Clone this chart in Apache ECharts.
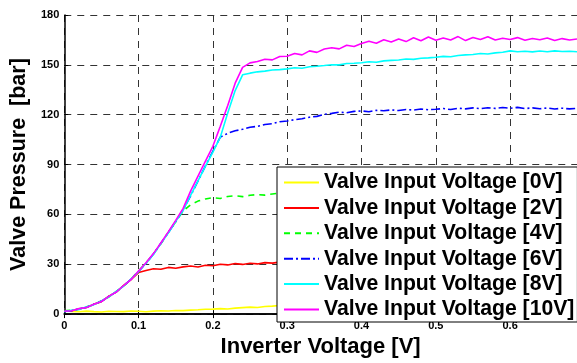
<!DOCTYPE html>
<html>
<head>
<meta charset="utf-8">
<script src="https://cdn.jsdelivr.net/npm/echarts@6/dist/echarts.min.js"></script>
<style>
  html, body { margin: 0; padding: 0; background: #fff; }
  #chart { width: 577px; height: 363px; }
</style>
</head>
<body>
<div id="chart"></div>
<script>
// Inverter voltage samples [V]
const inverterVoltage = [
  0.00, 0.01, 0.02, 0.03, 0.04, 0.05, 0.06, 0.07, 0.08, 0.09,
  0.10, 0.11, 0.12, 0.13, 0.14, 0.15, 0.16, 0.17, 0.18, 0.19,
  0.20, 0.21, 0.22, 0.23, 0.24, 0.25, 0.26, 0.27, 0.28, 0.29,
  0.30, 0.31, 0.32, 0.33, 0.34, 0.35, 0.36, 0.37, 0.38, 0.39,
  0.40, 0.41, 0.42, 0.43, 0.44, 0.45, 0.46, 0.47, 0.48, 0.49,
  0.50, 0.51, 0.52, 0.53, 0.54, 0.55, 0.56, 0.57, 0.58, 0.59,
  0.60, 0.61, 0.62, 0.63, 0.64, 0.65, 0.66, 0.67, 0.68, 0.69
];

// Valve pressure [bar] for each valve input voltage
const pressure0V = [
  2.0, 1.6, 1.4, 1.8, 1.5, 1.3, 1.7, 1.6, 1.5, 1.9,
  1.7, 1.4, 1.8, 2.0, 1.9, 2.2, 2.1, 2.4, 2.6, 2.9,
  3.0, 3.3, 3.1, 3.6, 3.9, 4.2, 4.0, 4.6, 4.8, 5.2,
  5.4, 5.7, 5.9, 6.2, 6.4, 6.7, 6.9, 7.1, 7.4, 7.6,
  7.8, 8.0, 8.2, 8.4, 8.5, 8.7, 8.9, 9.0, 9.2, 9.3,
  9.5, 9.6, 9.8, 9.9, 10.0, 10.1, 10.2, 10.4, 10.5, 10.6,
  10.7, 10.8, 10.9, 11.0, 11.1, 11.2, 11.3, 11.3, 11.4, 11.5
];
const pressure2V = [
  1.8, 2.0, 3.2, 4.0, 6.0, 7.5, 10.8, 13.2, 17.3, 20.8,
  25.0, 26.2, 27.3, 27.0, 28.1, 27.6, 28.4, 28.9, 28.3, 29.4,
  29.1, 30.0, 29.6, 30.4, 29.9, 30.6, 30.2, 31.0, 30.7, 31.3,
  31.5, 31.8, 32.0, 32.2, 32.4, 32.6, 32.8, 33.0, 33.1, 33.3,
  33.4, 33.6, 33.7, 33.8, 33.9, 34.0, 34.1, 34.2, 34.3, 34.4,
  34.5, 34.6, 34.6, 34.7, 34.8, 34.8, 34.9, 35.0, 35.0, 35.1,
  35.1, 35.2, 35.2, 35.3, 35.3, 35.4, 35.4, 35.5, 35.5, 35.6
];
const pressure4V = [
  2.0, 2.4, 2.8, 4.4, 5.6, 8.0, 10.3, 13.7, 16.8, 21.2,
  26.0, 30.8, 36.2, 42.3, 49.2, 55.6, 62.0, 65.8, 68.0, 69.3,
  70.1, 69.6, 70.8, 71.2, 70.7, 71.5, 71.9, 71.6, 72.3, 72.8,
  73.0, 73.2, 73.4, 73.6, 73.8, 74.0, 74.1, 74.3, 74.4, 74.6,
  74.7, 74.8, 74.9, 75.0, 75.1, 75.2, 75.3, 75.4, 75.5, 75.5,
  75.6, 75.7, 75.7, 75.8, 75.9, 75.9, 76.0, 76.0, 76.1, 76.1,
  76.2, 76.2, 76.3, 76.3, 76.3, 76.4, 76.4, 76.5, 76.5, 76.5
];
const pressure6V = [
  1.6, 2.1, 3.1, 4.1, 5.9, 7.7, 10.6, 13.4, 17.1, 21.0,
  25.7, 30.4, 36.1, 42.6, 49.0, 55.7, 62.6, 71.2, 80.1, 89.2,
  98.0, 106.5, 108.8, 110.3, 111.2, 112.4, 113.0, 114.1, 114.6, 115.8,
  116.2, 117.0, 117.6, 118.5, 119.0, 120.2, 120.8, 121.5, 121.2, 122.0,
  122.3, 121.8, 122.6, 122.4, 122.9, 122.5, 123.1, 122.8, 123.4, 123.0,
  123.3, 123.7, 123.1, 123.9, 123.5, 124.1, 123.6, 124.2, 123.8, 124.3,
  123.9, 124.4, 123.7, 124.1, 123.6, 124.0, 123.4, 123.9, 123.5, 123.8
];
const pressure8V = [
  1.4, 2.3, 3.0, 4.3, 5.7, 7.9, 10.4, 13.6, 16.9, 21.1,
  25.6, 30.6, 35.9, 42.4, 48.8, 55.9, 62.4, 71.5, 80.2, 89.0,
  97.5, 106.5, 121.0, 134.5, 144.0, 145.0, 145.8, 146.2, 146.9, 147.1,
  147.6, 148.3, 148.0, 148.9, 149.2, 149.6, 150.1, 150.0, 150.8, 151.0,
  151.3, 151.9, 151.6, 152.4, 152.7, 152.9, 153.5, 153.3, 154.0, 154.2,
  154.6, 155.1, 154.9, 155.6, 156.0, 156.2, 156.8, 156.5, 157.2, 157.6,
  158.4, 157.9, 158.2, 157.8, 158.3, 157.9, 158.4, 158.0, 158.2, 157.9
];
const pressure10V = [
  1.7, 2.0, 3.3, 4.0, 5.9, 7.6, 10.7, 13.3, 17.2, 20.9,
  25.9, 30.9, 36.4, 42.8, 49.5, 56.4, 63.6, 74.0, 83.0, 92.0,
  101.0, 113.0, 125.5, 139.0, 148.5, 151.2, 152.0, 153.4, 153.0, 155.0,
  155.2, 156.8, 156.0, 158.4, 157.5, 159.5, 160.3, 159.6, 161.8, 161.0,
  162.9, 164.2, 163.0, 165.1, 163.8, 165.6, 164.0, 166.3, 164.5, 166.8,
  164.8, 166.2, 165.0, 167.0, 164.6, 166.5, 165.2, 166.9, 164.9, 166.0,
  165.3, 166.4, 164.8, 165.9, 165.1, 166.2, 164.7, 165.8, 165.0, 165.6
];

const seriesNames = [
  'Valve Input Voltage [0V]',
  'Valve Input Voltage [2V]',
  'Valve Input Voltage [4V]',
  'Valve Input Voltage [6V]',
  'Valve Input Voltage [8V]',
  'Valve Input Voltage [10V]'
];
const seriesValues = [pressure0V, pressure2V, pressure4V, pressure6V, pressure8V, pressure10V];
const seriesColors = ['#ffff00', '#ff0000', '#00ff00', '#0000ff', '#00ffff', '#ff00ff'];
const seriesDash = ['solid', 'solid', [6, 5], [9, 3, 2, 3], 'solid', 'solid'];

const xTicks = [0, 0.1, 0.2, 0.3, 0.4, 0.5, 0.6];
const yTicks = [0, 30, 60, 90, 120, 150, 180];

const chart = echarts.init(document.getElementById('chart'), null, { renderer: 'canvas' });

const fontFamily = 'Arial, "Liberation Sans", sans-serif';
const gridDash = { show: true, lineStyle: { color: '#333', type: [7, 6], width: 1 } };
const tickFont = { color: '#000', fontFamily, fontWeight: 'bold', fontSize: 11 };

function xLabel(v) {
  const t = Math.round(v * 10) / 10;
  if (Math.abs(v - t) > 1e-6 || !xTicks.includes(t)) return '';
  return t === 0 ? '0' : t.toFixed(1);
}

chart.setOption({
  backgroundColor: '#fff',
  animation: false,
  grid: { left: 57, top: 15, right: 0, bottom: 38 },
  legend: {
    orient: 'vertical',
    left: 277,
    top: 167,
    z: 20,
    data: seriesNames,
    backgroundColor: '#fff',
    borderColor: '#000',
    borderWidth: 1,
    padding: [5, 3, 2, 6],
    itemWidth: 35,
    itemHeight: 14,
    itemGap: 4.4,
    itemStyle: { opacity: 0 },
    lineStyle: { width: 2 },
    textStyle: {
      color: '#000',
      fontFamily,
      fontWeight: 'bold',
      fontSize: 21.2,
      lineHeight: 21
    }
  },
  xAxis: [{
    type: 'value',
    min: 0,
    max: 0.69,
    interval: 0.1,
    name: 'Inverter Voltage [V]',
    nameLocation: 'middle',
    nameGap: 17,
    nameTextStyle: { color: '#000', fontFamily, fontWeight: 'bold', fontSize: 22, verticalAlign: 'top' },
    axisLine: { show: true, onZero: false, lineStyle: { color: '#000', width: 1.5 } },
    axisTick: { show: true, inside: true, length: 4, lineStyle: { color: '#000' } },
    axisLabel: { ...tickFont, margin: 6, showMaxLabel: false, formatter: xLabel },
    splitLine: gridDash
  }, {
    type: 'value',
    position: 'top',
    min: 0,
    max: 0.69,
    interval: 0.1,
    axisLine: { show: true, lineStyle: { color: '#000', width: 1.5 } },
    axisTick: { show: true, inside: true, length: 4, lineStyle: { color: '#000' } },
    axisLabel: { show: false },
    splitLine: { show: false }
  }],
  yAxis: {
    type: 'value',
    min: 0,
    max: 180,
    interval: 30,
    name: 'Valve Pressure  [bar]',
    nameLocation: 'middle',
    nameGap: 30,
    nameTextStyle: { color: '#000', fontFamily, fontWeight: 'bold', fontSize: 21.5 },
    axisLine: { show: true, lineStyle: { color: '#000', width: 1.5 } },
    axisTick: { show: true, inside: true, length: 4, lineStyle: { color: '#000' } },
    axisLabel: { ...tickFont, margin: 5, formatter: v => yTicks.includes(v) ? String(v) : '' },
    splitLine: gridDash
  },
  series: seriesNames.map((name, i) => ({
    name,
    type: 'line',
    xAxisIndex: 0,
    showSymbol: false,
    symbol: 'none',
    data: inverterVoltage.map((x, k) => [x, seriesValues[i][k]]),
    lineStyle: { color: seriesColors[i], width: 1.6, type: seriesDash[i] },
    itemStyle: { color: seriesColors[i] },
    z: 2
  }))
});
</script>
</body>
</html>
